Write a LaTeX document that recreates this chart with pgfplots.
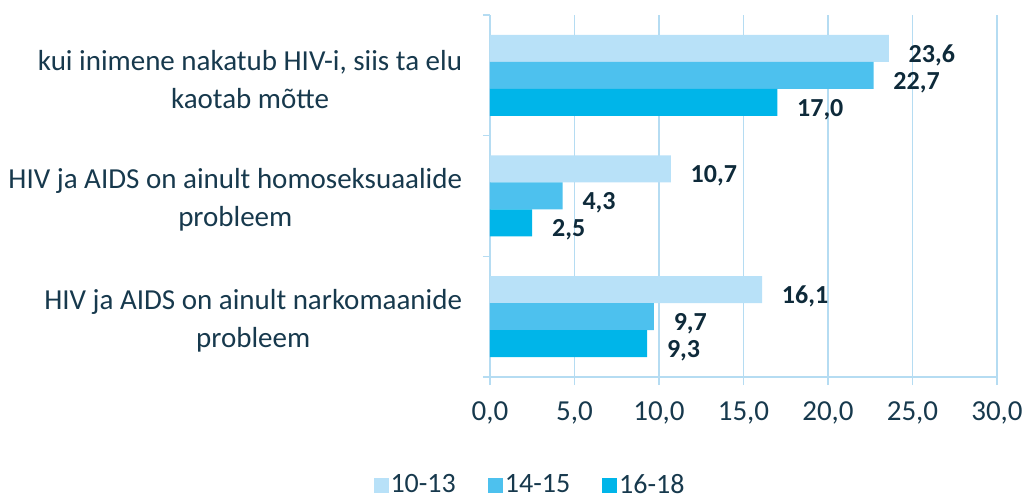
\documentclass[border=0pt]{standalone}
\usepackage{fontspec}
\setmainfont{Carlito}
\usepackage{pgfplots}
\pgfplotsset{compat=1.18}
\definecolor{c1}{HTML}{B8E1F8}
\definecolor{c2}{HTML}{4DC1EE}
\definecolor{c3}{HTML}{00B5E9}
\definecolor{txt}{HTML}{17394D}
\definecolor{lbl}{HTML}{0E2A3A}
\definecolor{gridc}{HTML}{B5DCF2}
\begin{document}
\fontsize{26}{30}\selectfont
\begin{tikzpicture}
\begin{axis}[
  scale only axis, width=507pt, height=362pt,
  xmin=0, xmax=30, ymin=-0.5, ymax=2.5,
  xtick={0,5,...,30},
  ytick={0,1,2},
  minor ytick={-0.5,0.5,1.5,2.5},
  yticklabels={{HIV ja AIDS on ainult narkomaanide\\probleem},{HIV ja AIDS on ainult homoseksuaalide\\probleem},{kui inimene nakatub HIV-i, siis ta elu\\kaotab mõtte}},
  yticklabel style={align=center, text=txt, xshift=-11pt, yshift=-4pt, font=\fontsize{29}{38}\selectfont},
  xticklabel style={text=txt, yshift=-8pt, font=\fontsize{29}{34}\selectfont},
  /pgf/number format/use comma,
  /pgf/number format/fixed,
  /pgf/number format/fixed zerofill,
  /pgf/number format/precision=1,
  /pgf/number format/assume math mode=true,
  axis x line*=bottom, axis y line*=left,
  axis line style={gridc, line width=1.5pt},
  tick align=outside,
  major tick length=8pt, minor tick length=7pt,
  major x tick style={gridc, line width=1.5pt},
  major y tick style={draw=none},
  minor y tick style={gridc, line width=1.5pt},
  xmajorgrids, major grid style={gridc, line width=1.5pt},
  xbar, bar width=27pt,
  nodes near coords,
  every node near coord/.append style={font=\bfseries, text=lbl, anchor=west, xshift=11pt, yshift=-7pt},
  legend columns=3,
  legend style={draw=none, fill=none, at={(0.079,-0.300)}, anchor=center, text=txt,
    font=\fontsize{28}{32}\selectfont,
    /tikz/every even column/.append style={column sep=30pt}},
  legend image code/.code={\fill[#1, draw=none] (0pt,-7.5pt) rectangle (15pt,7.5pt);},
]
\addplot[fill=c1, draw=none, bar shift=27pt] coordinates {(16.1,0) (10.7,1) (23.6,2)};
\addplot[fill=c2, draw=none, bar shift=0pt] coordinates {(9.7,0) (4.3,1) (22.7,2)};
\addplot[fill=c3, draw=none, bar shift=-27pt] coordinates {(9.3,0) (2.5,1) (17.0,2)};
\legend{10-13,14-15,16-18}
\end{axis}
\pgfresetboundingbox
\path[use as bounding box] (current axis.south west) ++(-490pt,-123pt) rectangle ++(1024pt,500pt);
\end{tikzpicture}
\end{document}
